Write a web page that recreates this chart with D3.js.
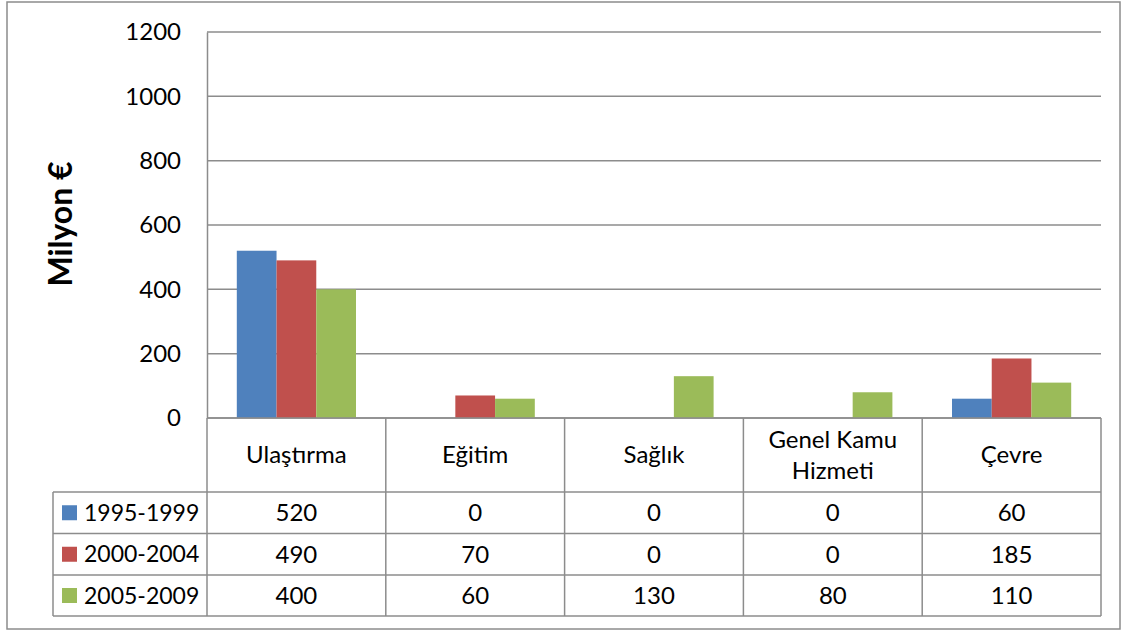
<!DOCTYPE html>
<html>
<head>
<meta charset="utf-8">
<script src="https://cdn.jsdelivr.net/npm/d3@7"></script>
<style>
  html, body { margin: 0; padding: 0; background: #fff; }
  svg { display: block; }
  text { font-family: Lato, "Open Sans", sans-serif; fill: #000; }
</style>
</head>
<body>
<svg id="chart" width="1127" height="630"></svg>
<script>
// Categories (Turkish sector names), one line or two per header cell
const categories = ["Ulaştırma", "Eğitim", "Sağlık", "Genel Kamu Hizmeti", "Çevre"];
const categoryLines = [["Ulaştırma"], ["Eğitim"], ["Sağlık"], ["Genel Kamu", "Hizmeti"], ["Çevre"]];

// Periods and their values (million €)
const series = ["1995-1999", "2000-2004", "2005-2009"];
const values1995 = [520, 0, 0, 0, 60];
const values2000 = [490, 70, 0, 0, 185];
const values2005 = [400, 60, 130, 80, 110];
const seriesValues = [values1995, values2000, values2005];
const colors = ["#4F81BD", "#C0504D", "#9BBB59"];

const yTicks = [0, 200, 400, 600, 800, 1000, 1200];
const yTitle = "Milyon €";

const svg = d3.select("#chart");
const gridColor = "#8c8c8c";
const fontSize = 24;

// Outer frame
svg.append("rect")
  .attr("x", 7).attr("y", 2).attr("width", 1113).attr("height", 627)
  .attr("fill", "#fff").attr("stroke", "#8c8c8c").attr("stroke-width", 1.5);

const plot = { left: 207, right: 1101, top: 32, bottom: 418 };

const x0 = d3.scaleBand().domain(categories).range([plot.left, plot.right]).padding(0);
const x1 = d3.scaleBand().domain(series).range([0, x0.bandwidth()]).paddingInner(0).paddingOuter(0.75);
const y = d3.scaleLinear().domain([0, 1200]).range([plot.bottom, plot.top]);

// Gridlines
svg.append("g").selectAll("line").data(yTicks).join("line")
  .attr("x1", plot.left).attr("x2", plot.right)
  .attr("y1", d => y(d)).attr("y2", d => y(d))
  .attr("stroke", gridColor).attr("stroke-width", 1.5);

// Y axis
const yAxis = d3.axisLeft(y).tickValues(yTicks).tickFormat(d3.format("d")).tickSize(0).tickPadding(26);
const yg = svg.append("g").attr("transform", `translate(${plot.left},0)`).call(yAxis);
yg.select(".domain").attr("stroke", gridColor).attr("stroke-width", 1.5);
yg.selectAll("text").attr("font-size", fontSize).attr("font-family", "Lato, sans-serif").attr("fill", "#000");

// Axis title
svg.append("text")
  .attr("transform", `translate(72,224) rotate(-90)`)
  .attr("text-anchor", "middle")
  .attr("font-size", 32).attr("font-weight", "bold")
  .text(yTitle);

// Bars
const barData = [];
categories.forEach((c, i) => series.forEach((s, j) => barData.push({ c, s, v: seriesValues[j][i], color: colors[j] })));
svg.append("g").selectAll("rect").data(barData.filter(d => d.v > 0)).join("rect")
  .attr("x", d => x0(d.c) + x1(d.s))
  .attr("width", x1.bandwidth())
  .attr("y", d => y(d.v))
  .attr("height", d => y(0) - y(d.v))
  .attr("fill", d => d.color);

// Data table
const rowY = [418, 492, 533.5, 575, 616];
const tableLeft = 53;
const table = svg.append("g");
const lineAttrs = sel => sel.attr("stroke", gridColor).attr("stroke-width", 1.5);

// horizontal rules
table.append("line").attr("x1", plot.left).attr("x2", plot.right).attr("y1", rowY[0]).attr("y2", rowY[0]).call(lineAttrs);
rowY.slice(1).forEach(yy => {
  table.append("line").attr("x1", tableLeft).attr("x2", plot.right).attr("y1", yy).attr("y2", yy).call(lineAttrs);
});
// vertical rules
const colEdges = categories.map(c => x0(c)).concat([plot.right]);
colEdges.forEach(xx => {
  table.append("line").attr("x1", xx).attr("x2", xx).attr("y1", rowY[0]).attr("y2", rowY[4]).call(lineAttrs);
});
table.append("line").attr("x1", tableLeft).attr("x2", tableLeft).attr("y1", rowY[1]).attr("y2", rowY[4]).call(lineAttrs);

// header cells
categories.forEach((c, i) => {
  const lines = categoryLines[i];
  const cx = x0(c) + x0.bandwidth() / 2;
  const cy = (rowY[0] + rowY[1]) / 2;
  const lh = 31;
  lines.forEach((ln, k) => {
    table.append("text")
      .attr("x", cx)
      .attr("y", cy + (k - (lines.length - 1) / 2) * lh)
      .attr("dy", "0.35em")
      .attr("text-anchor", "middle")
      .attr("font-size", fontSize)
      .text(ln);
  });
});

// value rows with legend keys
series.forEach((s, j) => {
  const cy = (rowY[j + 1] + rowY[j + 2]) / 2;
  table.append("rect")
    .attr("x", 62).attr("y", cy - 7.5).attr("width", 15).attr("height", 15)
    .attr("fill", colors[j]);
  table.append("text")
    .attr("x", 84).attr("y", cy).attr("dy", "0.35em")
    .attr("font-size", 23)
    .text(s);
  categories.forEach((c, i) => {
    table.append("text")
      .attr("x", x0(c) + x0.bandwidth() / 2)
      .attr("y", cy).attr("dy", "0.35em")
      .attr("text-anchor", "middle")
      .attr("font-size", fontSize)
      .text(seriesValues[j][i]);
  });
});
</script>
</body>
</html>
